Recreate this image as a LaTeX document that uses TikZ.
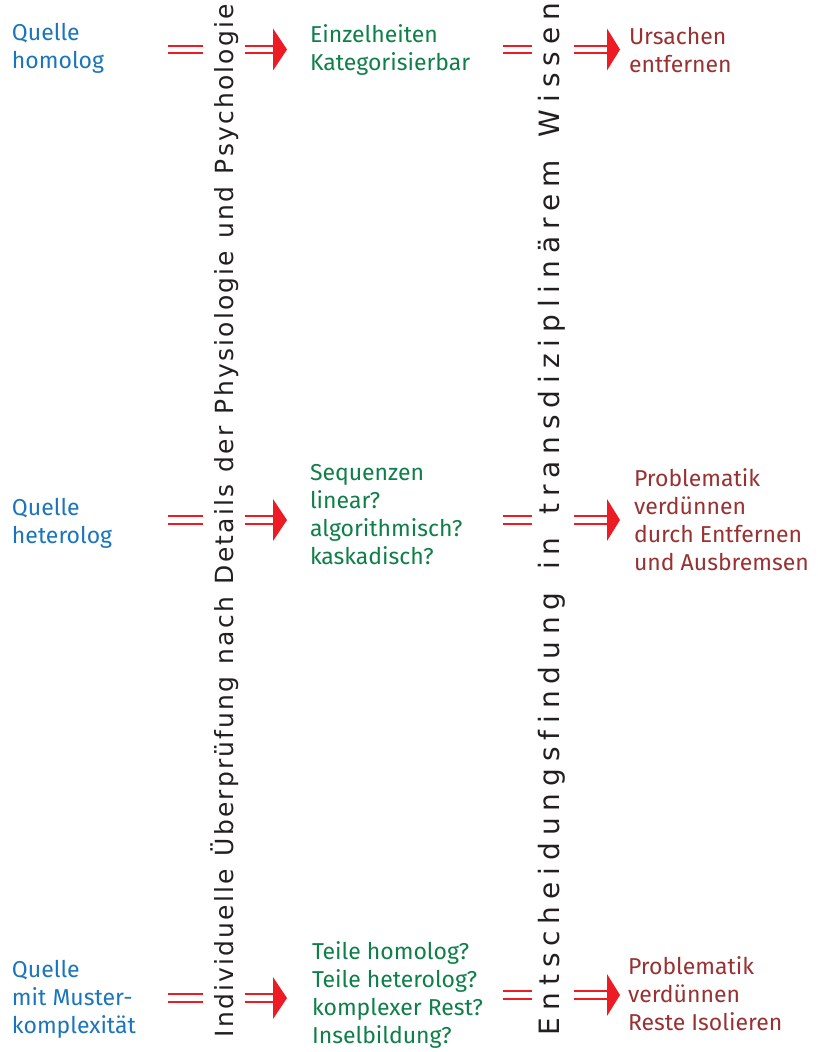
\documentclass[tikz,border=0pt]{standalone}
\usepackage{fontspec}
\setmainfont{Fira Sans}
\newfontfamily\vertfont{DejaVu Sans}
\usetikzlibrary{decorations.text}
\definecolor{qblue}{HTML}{1B75BC}
\definecolor{kgreen}{HTML}{0F7F4A}
\definecolor{rbrown}{HTML}{983232}
\definecolor{ared}{HTML}{ED1C24}
\definecolor{vgray}{HTML}{231F20}
\begin{document}
\begin{tikzpicture}[x=1pt,y=-1pt,
  lbl/.style={inner sep=0pt, outer sep=0pt, anchor=north west, align=left,
              font=\fontsize{23}{28}\selectfont},
  src/.style={lbl, text=qblue},
  chk/.style={lbl, text=kgreen},
  act/.style={lbl, text=rbrown},
  dbl/.style={draw=ared, line width=1.9pt, double=white, double distance=5.6pt},
  tip/.style={fill=ared}]
\useasboundingbox[fill=white] (0,0) rectangle (818,1052);

% source texts
\node[src] (src1) at (12,23.4) {Quelle\\homolog};
\node[src] (src2) at (12,498.4) {Quelle\\heterolog};
\node[src] (src3) at (12,960.4) {Quelle\\mit Muster-\\komplexität};

% check texts
\node[chk] (chk1) at (310,25) {Einzelheiten\\Kategorisierbar};
\node[chk] (chk2) at (310,464) {Sequenzen\\linear?\\algorithmisch?\\kaskadisch?};
\node[chk] (chk3) at (312,941.4) {Teile homolog?\\Teile heterolog?\\komplexer Rest?\\Inselbildung?};

% action texts
\node[act] (act1) at (629,27.4) {Ursachen\\entfernen};
\node[act] (act2) at (634,468.4) {Problematik\\verdünnen\\durch Entfernen\\und Ausbremsen};
\node[act] (act3) at (628,956.4) {Problematik\\verdünnen\\Reste Isolieren};

% vertical texts
\coordinate (v1s) at (233,1037);
\coordinate (v1e) at (233,4);
\coordinate (v2s) at (559,1035);
\coordinate (v2e) at (559,3);
\path[decorate, decoration={text along path, text align={fit to path},
  text={|\fontsize{25}{25}\vertfont\color{vgray}|Individuelle Überprüfung nach Details der Physiologie und Psychologie}}]
  (v1s) -- (v1e);
\path[decorate, decoration={text along path, text align={fit to path},
  text={|\fontsize{28}{28}\vertfont\color{vgray}|Entscheidungsfindung in transdiziplinärem Wissen}}]
  (v2s) -- (v2e);

% arrows
\foreach \r/\yl/\ym in {1/49.5/49.5, 2/520/520, 3/998/995}{
  \coordinate (la\r) at (168,\yl);
  \coordinate (lb\r) at (203,\yl);
  \coordinate (lc\r) at (245,\yl);
  \coordinate (ld\r) at (275,\yl);
  \coordinate (lh\r) at (273,\yl);
  \coordinate (ma\r) at (503,\ym);
  \coordinate (mb\r) at (532,\ym);
  \coordinate (mc\r) at (574,\ym);
  \coordinate (md\r) at (609,\ym);
  \coordinate (mh\r) at (607,\ym);
  \draw[dbl] (la\r) -- (lb\r);
  \draw[dbl] (lc\r) -- (ld\r);
  \fill[tip] (lh\r) ++(0,-21) -- ++(14,21) -- ++(-14,21) -- cycle;
  \draw[dbl] (ma\r) -- (mb\r);
  \draw[dbl] (mc\r) -- (md\r);
  \fill[tip] (mh\r) ++(0,-21) -- ++(13,21) -- ++(-13,21) -- cycle;
}
\end{tikzpicture}
\end{document}
